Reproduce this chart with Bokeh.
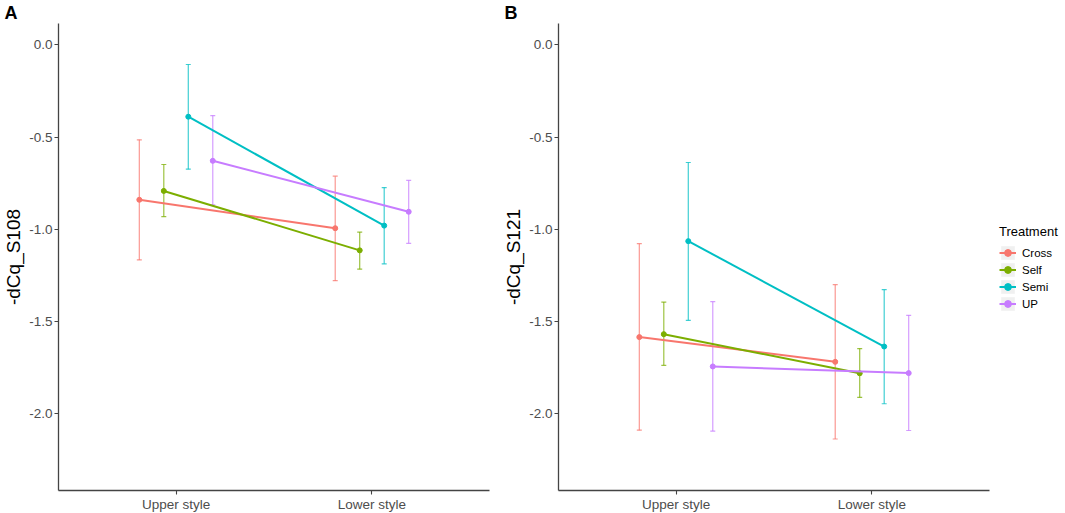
from bokeh.plotting import figure
from bokeh.layouts import row
from bokeh.models import (ColumnDataSource, Range1d, FixedTicker, NumeralTickFormatter,
                          Whisker, TeeHead, Legend, LegendItem, Title)
from bokeh.embed import file_html
from bokeh.resources import INLINE

# ---------------- data ----------------
categories = ["Upper style", "Lower style"]
treatments = ["Cross", "Self", "Semi", "UP"]
colors = ["#F8766D", "#7CAE00", "#00BFC4", "#C77CFF"]

# Panel A : -dCq_S108  (values for [Upper style, Lower style])
a_mean = {
    "Cross": [-0.840, -0.994],
    "Self":  [-0.792, -1.114],
    "Semi":  [-0.390, -0.980],
    "UP":    [-0.629, -0.905],
}
a_upper = {
    "Cross": [-0.515, -0.712],
    "Self":  [-0.649, -1.015],
    "Semi":  [-0.107, -0.774],
    "UP":    [-0.384, -0.735],
}
a_lower = {
    "Cross": [-1.166, -1.278],
    "Self":  [-0.931, -1.216],
    "Semi":  [-0.674, -1.187],
    "UP":    [-0.867, -1.076],
}

# Panel B : -dCq_S121
b_mean = {
    "Cross": [-1.584, -1.718],
    "Self":  [-1.568, -1.780],
    "Semi":  [-1.064, -1.635],
    "UP":    [-1.743, -1.779],
}
b_upper = {
    "Cross": [-1.078, -1.300],
    "Self":  [-1.394, -1.646],
    "Semi":  [-0.638, -1.327],
    "UP":    [-1.392, -1.466],
}
b_lower = {
    "Cross": [-2.088, -2.136],
    "Self":  [-1.737, -1.911],
    "Semi":  [-1.493, -1.945],
    "UP":    [-2.093, -2.090],
}

y_ticks = [0.0, -0.5, -1.0, -1.5, -2.0]
y_limits = (-2.3, 0.0)
dodge_width = 0.5

FONT = "Liberation Sans"
AXIS_COL = "#444444"
FW, FH = 431, 467


def make_panel(mean, upper, lower, ylab, tag, with_legend):
    lo, hi = y_limits
    pad = (hi - lo) * 0.05
    p = figure(frame_width=FW, frame_height=FH,
               x_range=Range1d(0.4, 2.6), y_range=Range1d(lo - pad, hi + pad),
               output_backend="svg", toolbar_location=None,
               min_border_left=58, min_border_right=(73 if with_legend else 11),
               min_border_top=22, min_border_bottom=20)
    p.outline_line_color = None
    p.grid.visible = False
    p.background_fill_color = "white"

    p.title = Title(text=tag, align="left", offset=-54, standoff=1,
                    text_font=FONT, text_font_size="18px", text_font_style="bold",
                    text_color="black")

    n = len(treatments)
    step = dodge_width / n
    sources = {}
    for i, t in enumerate(treatments):
        off = (i - (n - 1) / 2) * step
        xs = [k + 1 + off for k in range(len(categories))]
        src = ColumnDataSource(dict(x=xs, y=mean[t], up=upper[t], lo=lower[t]))
        w = Whisker(source=src, base="x", upper="up", lower="lo", dimension="height",
                    line_color=colors[i], line_alpha=0.75, line_width=1.2,
                    upper_head=TeeHead(size=5, line_color=colors[i], line_alpha=0.75, line_width=1.2),
                    lower_head=TeeHead(size=5, line_color=colors[i], line_alpha=0.75, line_width=1.2))
        p.add_layout(w)
        sources[t] = src

    items = []
    for i, t in enumerate(treatments):
        src = sources[t]
        bg = p.rect(x="x", y="y", width=0.1, height=0.1,
                    source=ColumnDataSource(dict(x=[float("nan")], y=[float("nan")])),
                    fill_color="#F0F0F0", line_color=None)
        ln = p.line(x="x", y="y", source=src, line_color=colors[i], line_width=2)
        pt = p.scatter(x="x", y="y", source=src, size=5, fill_color=colors[i],
                       line_color=colors[i])
        items.append(LegendItem(label=t, renderers=[bg, ln, pt]))

    # axes
    p.xaxis.ticker = FixedTicker(ticks=[1, 2])
    p.xaxis.major_label_overrides = {1: categories[0], 2: categories[1]}
    p.yaxis.ticker = FixedTicker(ticks=y_ticks)
    p.yaxis.formatter = NumeralTickFormatter(format="0.0")
    p.yaxis.axis_label = ylab
    for ax in (p.xaxis[0], p.yaxis[0]):
        ax.axis_line_color = AXIS_COL
        ax.axis_line_width = 1.3
        ax.major_tick_line_color = AXIS_COL
        ax.major_tick_line_width = 1.1
        ax.major_tick_out = 4
        ax.major_tick_in = 0
        ax.minor_tick_line_color = None
        ax.major_label_text_font = FONT
        ax.major_label_text_font_size = "13.5px"
        ax.major_label_text_color = "#4D4D4D"
        ax.major_label_standoff = 2
    p.yaxis.axis_label_text_font = FONT
    p.yaxis.axis_label_text_font_size = "19px"
    p.yaxis.axis_label_text_font_style = "normal"
    p.yaxis.axis_label_text_color = "black"
    p.yaxis.axis_label_standoff = 2

    if with_legend:
        leg = Legend(items=items, location=(10, 178), title="Treatment",
                     title_text_font=FONT, title_text_font_size="13px",
                     title_text_font_style="normal", title_text_color="black",
                     title_standoff=5,
                     label_text_font=FONT, label_text_font_size="11.5px",
                     label_text_color="black",
                     glyph_width=17, glyph_height=17, label_height=17,
                     spacing=0, padding=0, margin=0, label_standoff=6,
                     border_line_color=None, background_fill_alpha=0)
        p.add_layout(leg, "right")
    return p


pA = make_panel(a_mean, a_upper, a_lower, "-dCq_S108", "A", False)
pB = make_panel(b_mean, b_upper, b_lower, "-dCq_S121", "B", True)

layout = row(pA, pB)
open("out.html", "w").write(file_html(layout, INLINE))
